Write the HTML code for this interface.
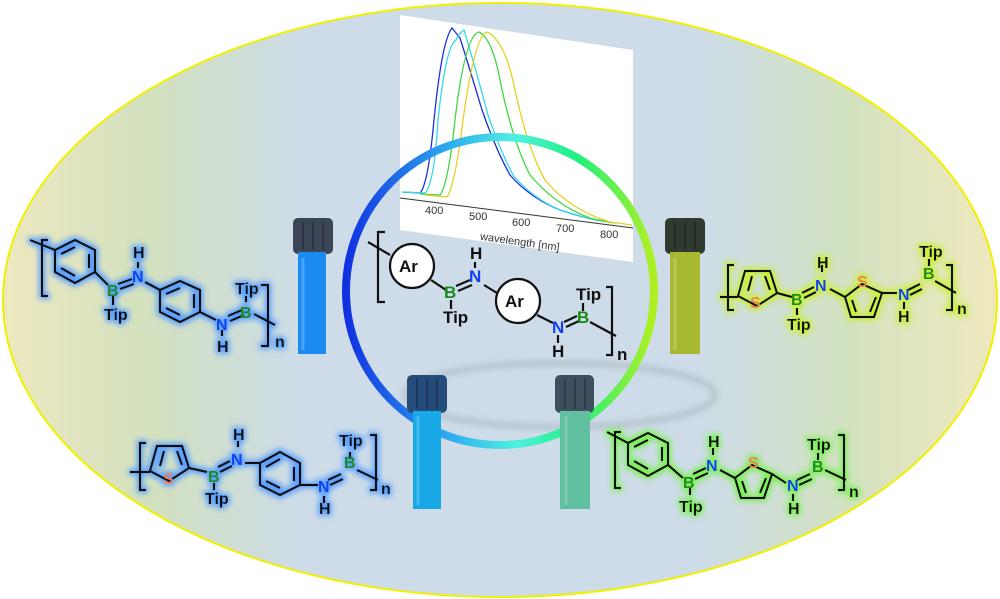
<!DOCTYPE html>
<html><head><meta charset="utf-8"><style>
html,body{margin:0;padding:0;background:#fff;}
svg{display:block;font-family:"Liberation Sans",Arial,sans-serif;font-weight:bold;}
</style></head><body>
<svg width="1000" height="599" viewBox="0 0 1000 599" xmlns="http://www.w3.org/2000/svg">
<defs>
<linearGradient id="bg2" x1="0" x2="1" y1="0" y2="0">
<stop offset="0" stop-color="#ede8bf"/><stop offset="0.15" stop-color="#d2e1bf"/><stop offset="0.3" stop-color="#cddce8"/><stop offset="0.7" stop-color="#cddce8"/><stop offset="0.85" stop-color="#d3e2c0"/><stop offset="1" stop-color="#efe9bd"/>
</linearGradient>
<linearGradient id="ring" x1="0" y1="0" x2="1" y2="0">
<stop offset="0" stop-color="#1030e0"/><stop offset="0.35" stop-color="#30b0f0"/><stop offset="0.55" stop-color="#50f0e0"/><stop offset="0.75" stop-color="#20f080"/><stop offset="1" stop-color="#b0f020"/>
</linearGradient>
<filter id="blur"><feGaussianBlur stdDeviation="3"/></filter>
<filter id="gb" x="-10%" y="-20%" width="120%" height="140%"><feMorphology in="SourceAlpha" operator="dilate" radius="2" result="d"/><feGaussianBlur in="d" stdDeviation="3" result="b"/><feFlood flood-color="#5aa0ff"/><feComposite in2="b" operator="in" result="g"/><feMerge><feMergeNode in="g"/><feMergeNode in="SourceGraphic"/></feMerge></filter>
<filter id="gg" x="-10%" y="-20%" width="120%" height="140%"><feMorphology in="SourceAlpha" operator="dilate" radius="2" result="d"/><feGaussianBlur in="d" stdDeviation="3" result="b"/><feFlood flood-color="#7ef05a"/><feComposite in2="b" operator="in" result="g"/><feMerge><feMergeNode in="g"/><feMergeNode in="SourceGraphic"/></feMerge></filter>
<filter id="gy" x="-10%" y="-20%" width="120%" height="140%"><feMorphology in="SourceAlpha" operator="dilate" radius="2" result="d"/><feGaussianBlur in="d" stdDeviation="3" result="b"/><feFlood flood-color="#c8f03a"/><feComposite in2="b" operator="in" result="g"/><feMerge><feMergeNode in="g"/><feMergeNode in="SourceGraphic"/></feMerge></filter>
</defs>
<ellipse cx="500" cy="300" rx="497" ry="297" fill="url(#bg2)" stroke="#f0f000" stroke-width="2"/>
<ellipse cx="560" cy="395" rx="155" ry="32" fill="none" stroke="#8c96a4" stroke-width="6" opacity="0.35" filter="url(#blur)"/>

<polygon points="400,15 633,50 633,262 400,230" fill="#fff"/>
<g fill="none" stroke-width="1.3">
<path d="M402,192 L420,193 Q428,185 434,120 Q442,40 452,28 Q456,33 460,38 Q470,70 482,110 Q496,150 510,175 Q530,198 560,210 Q590,220 605,221" stroke="#1a2ee0"/>
<path d="M402,192 L425,193 Q434,185 438,120 Q446,45 456,40 Q460,32 464,30 Q476,70 488,115 Q500,150 513,175 Q532,198 560,210 Q590,220 605,221" stroke="#30d8f0"/>
<path d="M420,194 L440,195 Q448,185 455,120 Q465,35 479,32 Q492,38 500,80 Q512,140 530,175 Q555,205 590,218 Q605,222 615,223" stroke="#40d840"/>
<path d="M425,195 L447,197 Q455,185 463,120 Q475,35 487,32 Q505,40 515,90 Q528,150 545,180 Q570,210 610,222 Q625,224 632,225" stroke="#e8d020"/>
</g>
<line x1="400" y1="198" x2="633" y2="228" stroke="#333" stroke-width="1"/>
<g font-size="11" font-weight="normal" fill="#333">
<text x="425" y="214">400</text><text x="469" y="220">500</text><text x="512" y="226">600</text><text x="556" y="232">700</text><text x="600" y="238">800</text>
<text x="480" y="244" transform="rotate(8 510 240)">wavelength [nm]</text>
</g>

<circle cx="500" cy="291" r="154" fill="none" stroke="url(#ring)" stroke-width="8"/>

<g>
<rect x="293" y="218" width="40" height="36" rx="5" fill="#3a4656"/>
<rect x="298" y="252" width="28" height="102" fill="#1a8cf0"/>
<rect x="665" y="218" width="40" height="36" rx="5" fill="#2f3a30"/>
<rect x="670" y="252" width="30" height="102" fill="#a8b830"/>
<rect x="407" y="375" width="40" height="38" rx="5" fill="#254c7a"/>
<rect x="413" y="411" width="28" height="98" fill="#18a8e8"/>
<rect x="555" y="375" width="39" height="38" rx="5" fill="#3e5060"/>
<rect x="560" y="411" width="30" height="98" fill="#60c0a0"/>
<g stroke="#000" stroke-opacity="0.25" stroke-width="2">
<line x1="303" y1="222" x2="303" y2="250"/><line x1="313" y1="222" x2="313" y2="250"/><line x1="323" y1="222" x2="323" y2="250"/>
<line x1="675" y1="222" x2="675" y2="250"/><line x1="685" y1="222" x2="685" y2="250"/><line x1="695" y1="222" x2="695" y2="250"/>
<line x1="417" y1="379" x2="417" y2="409"/><line x1="427" y1="379" x2="427" y2="409"/><line x1="437" y1="379" x2="437" y2="409"/>
<line x1="565" y1="379" x2="565" y2="409"/><line x1="575" y1="379" x2="575" y2="409"/><line x1="585" y1="379" x2="585" y2="409"/>
</g>
<g stroke="#fff" stroke-opacity="0.2" stroke-width="3">
<line x1="303" y1="258" x2="303" y2="350"/><line x1="675" y1="258" x2="675" y2="350"/><line x1="418" y1="416" x2="418" y2="505"/><line x1="566" y1="416" x2="566" y2="505"/>
</g>
</g>

<g stroke="#111" stroke-width="2.2" fill="none" font-size="16">

<g filter="url(#gb)">
<path d="M48,240 L42,240 L42,296 L48,296"/>
<line x1="30" y1="240" x2="55" y2="250"/>
<polygon points="55,250 75,240 95,250 95,272 75,283 55,272"/>
<line x1="61" y1="254" x2="75" y2="247"/><line x1="89" y1="254" x2="89" y2="268"/><line x1="61" y1="268" x2="75" y2="276"/>
<line x1="95" y1="272" x2="108" y2="285"/>
<line x1="118" y1="284" x2="132" y2="279"/><line x1="120" y1="289" x2="134" y2="284"/>
<line x1="113" y1="296" x2="113" y2="305"/>
<line x1="138" y1="262" x2="138" y2="268"/>
<line x1="145" y1="282" x2="160" y2="290"/>
<polygon points="160,290 180,281 200,290 200,312 180,322 160,312"/>
<line x1="166" y1="294" x2="180" y2="288"/><line x1="194" y1="294" x2="194" y2="308"/><line x1="166" y1="308" x2="180" y2="315"/>
<line x1="200" y1="312" x2="216" y2="320"/>
<line x1="228" y1="316" x2="242" y2="310"/><line x1="230" y1="321" x2="244" y2="315"/>
<line x1="222" y1="330" x2="222" y2="336"/>
<line x1="246" y1="296" x2="246" y2="302"/>
<line x1="254" y1="314" x2="275" y2="325"/>
<path d="M261,285 L268,285 L268,346 L261,346"/>
<g stroke="none">
<text x="107" y="296" fill="#1a8a1a">B</text><text x="132" y="282" fill="#1040f0">N</text><text x="133" y="258" fill="#111">H</text>
<text x="104" y="320" fill="#111">Tip</text>
<text x="216" y="330" fill="#1040f0">N</text><text x="217" y="352" fill="#111">H</text>
<text x="240" y="318" fill="#1a8a1a">B</text><text x="235" y="294" fill="#111">Tip</text>
<text x="275" y="347" fill="#111">n</text>
</g>
</g>

<g>
<path d="M385,232 L378,232 L378,302 L385,302"/>
<line x1="368" y1="242" x2="390" y2="255"/>
<circle cx="412" cy="266" r="22" fill="#fff"/>
<line x1="431" y1="280" x2="446" y2="290"/>
<line x1="456" y1="286" x2="470" y2="280"/><line x1="458" y1="291" x2="472" y2="285"/>
<line x1="451" y1="300" x2="451" y2="309"/>
<line x1="475" y1="262" x2="475" y2="268"/>
<line x1="484" y1="285" x2="497" y2="293"/>
<circle cx="518" cy="301" r="22" fill="#fff"/>
<line x1="537" y1="315" x2="553" y2="323"/>
<line x1="564" y1="322" x2="577" y2="316"/><line x1="566" y1="327" x2="579" y2="321"/>
<line x1="558" y1="335" x2="558" y2="343"/>
<line x1="583" y1="303" x2="583" y2="311"/>
<line x1="590" y1="322" x2="616" y2="336"/>
<path d="M606,287 L612,287 L612,355 L606,355"/>
<g stroke="none" font-size="17">
<text x="399" y="272" fill="#111">Ar</text><text x="505" y="307" fill="#111">Ar</text>
<text x="444" y="298" fill="#1a8a1a">B</text><text x="469" y="282" fill="#1040f0">N</text><text x="470" y="259" fill="#111">H</text>
<text x="443" y="323" fill="#111">Tip</text>
<text x="552" y="333" fill="#1040f0">N</text><text x="552" y="357" fill="#111">H</text>
<text x="577" y="323" fill="#1a8a1a">B</text><text x="576" y="300" fill="#111">Tip</text>
<text x="617" y="360" fill="#111">n</text>
</g>
</g>

<g filter="url(#gy)">
<path d="M734,265 L728,265 L728,310 L734,310"/>
<line x1="720" y1="297" x2="738" y2="297"/>
<polygon points="738,296 745,271 770,271 777,293 757,306"/>
<line x1="748" y1="291" x2="752" y2="276"/><line x1="765" y1="276" x2="770" y2="290"/>
<line x1="777" y1="293" x2="792" y2="297"/>
<line x1="802" y1="293" x2="814" y2="287"/><line x1="804" y1="298" x2="816" y2="292"/>
<line x1="797" y1="308" x2="797" y2="315"/>
<line x1="822" y1="265" x2="822" y2="272"/>
<line x1="830" y1="289" x2="845" y2="297"/>
<polygon points="845,297 862,284 882,293 874,317 851,317"/>
<line x1="852" y1="300" x2="856" y2="312"/><line x1="876" y1="297" x2="870" y2="312"/>
<line x1="882" y1="293" x2="897" y2="293"/>
<line x1="908" y1="290" x2="920" y2="284"/><line x1="910" y1="295" x2="922" y2="289"/>
<line x1="904" y1="302" x2="904" y2="309"/>
<line x1="929" y1="259" x2="929" y2="266"/>
<line x1="935" y1="281" x2="956" y2="293"/>
<path d="M946,265 L952,265 L952,310 L946,310"/>
<g stroke="none">
<text x="750" y="308" fill="#f08050">S</text><text x="857" y="287" fill="#f08050">S</text>
<text x="791" y="305" fill="#1a8a1a">B</text><text x="815" y="291" fill="#1040f0">N</text><text x="817" y="268" fill="#111">H</text>
<text x="787" y="330" fill="#111">Tip</text>
<text x="898" y="300" fill="#1040f0">N</text><text x="898" y="322" fill="#111">H</text>
<text x="923" y="279" fill="#1a8a1a">B</text><text x="919" y="257" fill="#111">Tip</text>
<text x="957" y="314" fill="#111">n</text>
</g>
</g>

<g filter="url(#gb)">
<path d="M146,443 L140,443 L140,490 L146,490"/>
<line x1="130" y1="472" x2="150" y2="472"/>
<polygon points="150,471 157,446 182,446 189,468 169,481"/>
<line x1="160" y1="466" x2="164" y2="451"/><line x1="177" y1="451" x2="182" y2="465"/>
<line x1="189" y1="468" x2="207" y2="472"/>
<line x1="218" y1="467" x2="230" y2="461"/><line x1="220" y1="472" x2="232" y2="466"/>
<line x1="214" y1="483" x2="214" y2="490"/>
<line x1="238" y1="441" x2="238" y2="447"/>
<line x1="245" y1="463" x2="260" y2="463"/>
<polygon points="260,463 280,452 300,463 300,485 280,495 260,485"/>
<line x1="266" y1="467" x2="280" y2="459"/><line x1="294" y1="467" x2="294" y2="481"/><line x1="266" y1="481" x2="280" y2="488"/>
<line x1="300" y1="485" x2="318" y2="485"/>
<line x1="328" y1="480" x2="341" y2="474"/><line x1="330" y1="485" x2="343" y2="479"/>
<line x1="324" y1="496" x2="324" y2="503"/>
<line x1="350" y1="452" x2="350" y2="459"/>
<line x1="357" y1="470" x2="378" y2="480"/>
<path d="M370,435 L376,435 L376,490 L370,490"/>
<g stroke="none">
<text x="163" y="484" fill="#f08050">S</text>
<text x="208" y="482" fill="#1a8a1a">B</text><text x="231" y="465" fill="#1040f0">N</text><text x="233" y="440" fill="#111">H</text>
<text x="205" y="504" fill="#111">Tip</text>
<text x="318" y="492" fill="#1040f0">N</text><text x="319" y="514" fill="#111">H</text>
<text x="344" y="468" fill="#1a8a1a">B</text><text x="339" y="446" fill="#111">Tip</text>
<text x="381" y="494" fill="#111">n</text>
</g>
</g>

<g filter="url(#gg)">
<path d="M621,432 L615,432 L615,488 L621,488"/>
<line x1="607" y1="432" x2="628" y2="443"/>
<polygon points="628,443 648,433 668,443 668,465 648,476 628,465"/>
<line x1="634" y1="447" x2="648" y2="440"/><line x1="662" y1="447" x2="662" y2="461"/><line x1="634" y1="461" x2="648" y2="469"/>
<line x1="668" y1="465" x2="683" y2="478"/>
<line x1="693" y1="474" x2="706" y2="468"/><line x1="695" y1="479" x2="708" y2="473"/>
<line x1="690" y1="488" x2="690" y2="495"/>
<line x1="713" y1="448" x2="713" y2="455"/>
<line x1="720" y1="470" x2="735" y2="478"/>
<polygon points="735,478 752,465 772,474 764,498 741,498"/>
<line x1="742" y1="481" x2="746" y2="493"/><line x1="766" y1="478" x2="760" y2="493"/>
<line x1="772" y1="474" x2="786" y2="483"/>
<line x1="797" y1="480" x2="810" y2="474"/><line x1="799" y1="485" x2="812" y2="479"/>
<line x1="793" y1="494" x2="793" y2="501"/>
<line x1="818" y1="453" x2="818" y2="460"/>
<line x1="825" y1="470" x2="846" y2="480"/>
<path d="M838,435 L844,435 L844,490 L838,490"/>
<g stroke="none">
<text x="748" y="468" fill="#f08050">S</text>
<text x="683" y="488" fill="#1a8a1a">B</text><text x="706" y="471" fill="#1040f0">N</text><text x="708" y="447" fill="#111">H</text>
<text x="679" y="512" fill="#111">Tip</text>
<text x="787" y="491" fill="#1040f0">N</text><text x="788" y="514" fill="#111">H</text>
<text x="812" y="472" fill="#1a8a1a">B</text><text x="807" y="450" fill="#111">Tip</text>
<text x="849" y="497" fill="#111">n</text>
</g>
</g>
</g>
</svg>
</body></html>
